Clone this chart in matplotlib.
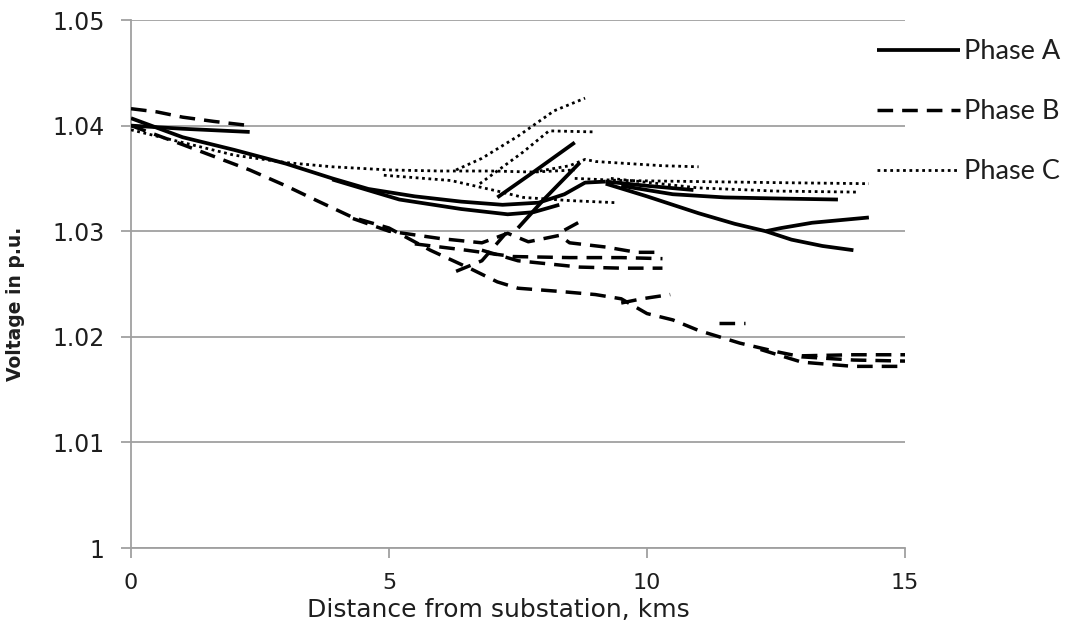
import matplotlib
matplotlib.use("Agg")
import matplotlib.pyplot as plt

# ---------------------------------------------------------------
# Feeder voltage profiles: each branch is (distance km, voltage p.u.)
# ---------------------------------------------------------------

# Phase A (solid)
phase_a_main = ([0.0, 1.0, 2.0, 3.0, 3.9, 4.6, 5.5, 6.4, 7.2, 7.9, 8.4, 8.8, 9.2],
                [1.0407, 1.0389, 1.0377, 1.0364, 1.0350, 1.0340, 1.0333, 1.0328,
                 1.0325, 1.0327, 1.0335, 1.0346, 1.0347])
phase_a_start = ([0.0, 1.0, 2.3],
                 [1.0400, 1.0397, 1.0394])
phase_a_lower = ([3.9, 5.2, 6.4, 7.3, 7.8, 8.3],
                 [1.0349, 1.0330, 1.0321, 1.0316, 1.0318, 1.0325])
phase_a_rise1 = ([7.1, 7.8, 8.6],
                 [1.0332, 1.0356, 1.0384])
phase_a_rise2 = ([7.5, 8.0, 8.7],
                 [1.0303, 1.0330, 1.0365])
phase_a_short = ([9.2, 10.0, 10.9],
                 [1.0347, 1.0343, 1.0339])
phase_a_flat = ([9.5, 10.5, 11.5, 12.5, 13.7],
                [1.0343, 1.0335, 1.0332, 1.0331, 1.0330])
phase_a_far = ([9.2, 10.0, 11.0, 11.7, 12.3, 12.6, 13.2, 14.3],
               [1.0345, 1.0333, 1.0317, 1.0307, 1.0300, 1.0303, 1.0308, 1.0313])
phase_a_end = ([12.3, 12.8, 13.4, 14.0],
               [1.0300, 1.0292, 1.0286, 1.0282])

# Phase B (dashed)
phase_b_main = ([0.0, 1.0, 2.3, 3.0, 3.6, 4.3, 5.0, 5.8, 6.6, 7.1, 7.5, 8.3, 9.0,
                 9.5, 10.0, 10.5, 11.0, 11.8, 12.5, 13.0, 14.0, 15.0],
                [1.0400, 1.0382, 1.0358, 1.0343, 1.0329, 1.0313, 1.0303, 1.0282,
                 1.0264, 1.0252, 1.0246, 1.0243, 1.0240, 1.0236, 1.0222, 1.0216,
                 1.0206, 1.0194, 1.0186, 1.0181, 1.0178, 1.0177])
phase_b_start = ([0.0, 0.5, 1.0, 1.6, 2.3],
                 [1.0416, 1.0413, 1.0408, 1.0404, 1.0400])
phase_b_hump = ([4.3, 5.0, 6.0, 6.8, 7.3, 7.7, 8.3, 8.5, 9.2, 9.8, 10.25],
                [1.0312, 1.0300, 1.0293, 1.0289, 1.0298, 1.0290, 1.0296, 1.0289,
                 1.0285, 1.0280, 1.0280])
phase_b_mid1 = ([5.5, 6.5, 7.4, 8.5, 9.5, 10.3],
                [1.0288, 1.0282, 1.0276, 1.0275, 1.0275, 1.0274])
phase_b_mid2 = ([6.8, 7.5, 8.7, 9.5, 10.3],
                [1.0282, 1.0272, 1.0266, 1.0265, 1.0265])
phase_b_rise = ([6.3, 6.8, 7.3],
                [1.0262, 1.0272, 1.0300])
phase_b_stub = ([8.4, 8.7],
                [1.0301, 1.0309])
phase_b_arm = ([9.5, 9.9, 10.45],
               [1.0232, 1.0236, 1.0240])
phase_b_tap = ([11.4, 11.9],
               [1.0213, 1.0213])
phase_b_tail1 = ([12.2, 13.0, 14.0, 15.0],
                 [1.0188, 1.0176, 1.0172, 1.0172])
phase_b_tail2 = ([13.0, 14.0, 15.0],
                 [1.0182, 1.0183, 1.0183])

# Phase C (dotted)
phase_c_main = ([0.0, 1.0, 2.0, 3.0, 3.9, 5.0, 6.0, 7.0, 7.8, 8.6],
                [1.0396, 1.0384, 1.0372, 1.0365, 1.0361, 1.0358, 1.0357, 1.0357,
                 1.0356, 1.0358])
phase_c_lower = ([4.9, 6.2, 7.1, 7.6, 8.5, 9.4],
                 [1.0353, 1.0348, 1.0338, 1.0332, 1.0329, 1.0327])
phase_c_rise1 = ([6.3, 6.8, 7.5, 8.2, 8.8],
                 [1.0358, 1.0369, 1.0390, 1.0414, 1.0426])
phase_c_rise2 = ([6.76, 7.6, 8.1, 9.0],
                 [1.0345, 1.0375, 1.0395, 1.0394])
phase_c_peak = ([7.8, 8.5, 8.8, 9.0, 10.3, 11.0],
                [1.0356, 1.0362, 1.0368, 1.0366, 1.0362, 1.0361])
phase_c_far1 = ([8.6, 9.5, 11.0, 12.5, 14.3],
                [1.0350, 1.0348, 1.0347, 1.0346, 1.0345])
phase_c_far2 = ([9.3, 11.0, 12.5, 14.1],
                [1.0350, 1.0341, 1.0338, 1.0337])

phase_a = [phase_a_main, phase_a_start, phase_a_lower, phase_a_rise1, phase_a_rise2,
           phase_a_short, phase_a_flat, phase_a_far, phase_a_end]
phase_b = [phase_b_main, phase_b_start, phase_b_hump, phase_b_mid1, phase_b_mid2,
           phase_b_rise, phase_b_stub, phase_b_arm, phase_b_tap, phase_b_tail1,
           phase_b_tail2]
phase_c = [phase_c_main, phase_c_lower, phase_c_rise1, phase_c_rise2, phase_c_peak,
           phase_c_far1, phase_c_far2]

phase_labels = ["Phase A", "Phase B", "Phase C"]
x_ticks = [0, 5, 10, 15]
y_ticks = [1.00, 1.01, 1.02, 1.03, 1.04, 1.05]
y_tick_labels = ["1", "1.01", "1.02", "1.03", "1.04", "1.05"]

grid_grey = "#a0a0a0"
text_col = "#1e1e1e"

fig = plt.figure(figsize=(10.66, 6.24), dpi=100)
ax = fig.add_axes([131 / 1066, 1 - 548 / 624, (905 - 131) / 1066, (548 - 20) / 624])

styles = [
    dict(linestyle="-", linewidth=2.7, solid_capstyle="butt"),
    dict(linestyle=(0, (4.5, 2.6)), linewidth=2.5, dash_capstyle="butt"),
    dict(linestyle=(0, (1.0, 1.3)), linewidth=2.0, dash_capstyle="butt"),
]

for branches, style, label in zip([phase_a, phase_b, phase_c], styles, phase_labels):
    for i, (km, pu) in enumerate(branches):
        ax.plot(km, pu, color="black", label=label if i == 0 else None,
                zorder=3, **style)

ax.set_xlim(0, 15)
ax.set_ylim(1.0, 1.05)
ax.set_xticks(x_ticks)
ax.set_yticks(y_ticks)
ax.set_yticklabels(y_tick_labels)

ax.grid(axis="y", color=grid_grey, linewidth=1.3, zorder=0)
for side in ["top", "right"]:
    ax.spines[side].set_visible(False)
for side in ["left", "bottom"]:
    ax.spines[side].set_color(grid_grey)
    ax.spines[side].set_linewidth(1.3)

ax.tick_params(axis="both", color=grid_grey, width=1.3, length=7, direction="out",
               labelcolor=text_col)
ax.tick_params(axis="y", labelsize=17, pad=12)
ax.tick_params(axis="x", labelsize=16, pad=11)

ax.set_xlabel("Distance from substation, kms", fontsize=18, color=text_col)
ax.xaxis.set_label_coords((498 - 131) / 774, -0.095)
ax.set_ylabel("Voltage in p.u.", fontsize=13.5, fontweight="bold", color=text_col)
ax.yaxis.set_label_coords(-0.137, (548 - 304) / 528)

leg = fig.legend(loc="upper left", bbox_to_anchor=(877 / 1066, 1 - 39 / 624),
                 frameon=False, borderpad=0, borderaxespad=0,
                 handlelength=3.05, handletextpad=0.15, labelspacing=1.3,
                 prop={"family": "Lato", "size": 19.5})
for t in leg.get_texts():
    t.set_color(text_col)

fig.savefig("out.png", dpi=100)
